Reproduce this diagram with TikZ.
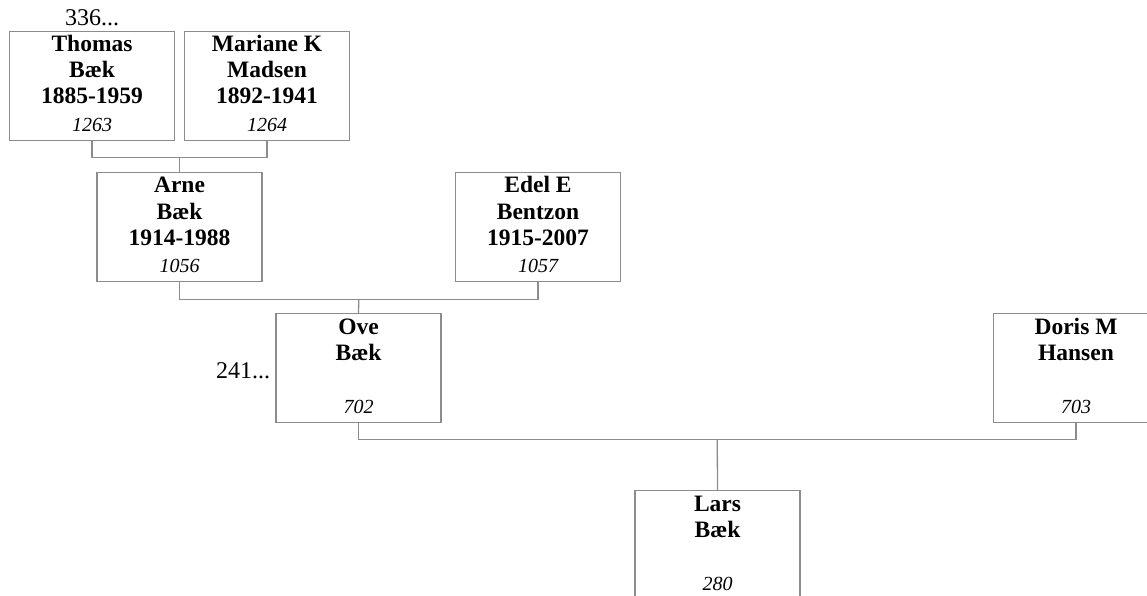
\documentclass[tikz,border=0pt]{standalone}
\usepackage{fontspec}
\setmainfont{Liberation Serif}
\usetikzlibrary{calc}
\tikzset{
  pbox/.style={draw=boxgray, line width=1.3pt, minimum width=165pt, minimum height=109pt, inner sep=0pt, anchor=north},
  pname/.style={font=\fontsize{23.5pt}{26pt}\selectfont\bfseries, inner sep=0pt, anchor=base},
  pnum/.style={font=\fontsize{20pt}{22pt}\selectfont\itshape, inner sep=0pt, anchor=base},
  more/.style={font=\fontsize{24pt}{26pt}\selectfont, inner sep=0pt},
  conn/.style={draw=boxgray, line width=1.3pt}
}
\definecolor{boxgray}{RGB}{140,140,140}
\newcommand\personnode[5]{%
  \node[pbox] (#1) at (#2,#3) {};
  \foreach \t [count=\i, evaluate=\i as \dy using -21-26*(\i-1)] in {#4}
    \node[pname] (#1-\i) at ([yshift=\dy pt]#1.north) {\t};
  \node[pnum] (#1-n) at ([yshift=10pt]#1.south) {#5};
}
\begin{document}
\begin{tikzpicture}[x=1pt,y=-1pt]
\useasboundingbox (0,0) rectangle (1147,596);
\clip (0,0) rectangle (1147,596);
\personnode{thomas}{92}{31}{Thomas,Bæk,1885-1959}{1263}
\personnode{mariane}{267}{31}{Mariane K,Madsen,1892-1941}{1264}
\personnode{arne}{179.5}{172}{Arne,Bæk,1914-1988}{1056}
\personnode{edel}{538}{172}{Edel E,Bentzon,1915-2007}{1057}
\personnode{ove}{358.5}{313}{Ove,Bæk}{702}
\personnode{doris}{1076}{313}{Doris M,Hansen}{703}
\personnode{lars}{717.5}{490}{Lars,Bæk}{280}
\node[more, anchor=base] (m336) at ([yshift=5pt]thomas.north) {336...};
\node[more, anchor=base east] (m241) at ([xshift=-5pt,yshift=-10pt]ove.west) {241...};
% family 1
\coordinate (j1) at ($(thomas.south)!0.5!(mariane.south)+(0,16)$);
\draw[conn] (thomas.south) -- ++(0,16) -| (mariane.south);
\draw[conn] (j1) -- (arne.north);
% family 2
\coordinate (j2) at ($(arne.south)!0.5!(edel.south)+(0,17)$);
\draw[conn] (arne.south) -- ++(0,17) -| (edel.south);
\draw[conn] (j2) -- (ove.north);
% family 3
\coordinate (j3) at ($(ove.south)!0.5!(doris.south)+(0,16.5)$);
\draw[conn] (ove.south) -- ++(0,16.5) -| (doris.south);
\draw[conn] (j3) -- (lars.north);
\end{tikzpicture}
\end{document}
